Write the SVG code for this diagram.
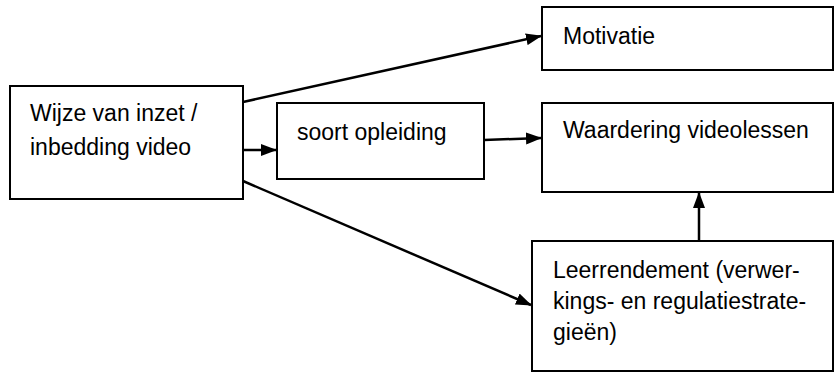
<svg xmlns="http://www.w3.org/2000/svg" width="835" height="372" viewBox="0 0 835 372">
<style>
.box{fill:#fff;stroke:#000;stroke-width:2}
.t{font-family:"Liberation Sans",Arial,sans-serif;font-size:23px;fill:#000}
.c{stroke:#000;stroke-width:2.5;fill:none}
</style>
<defs>
<marker id="ah" markerWidth="16" markerHeight="12" refX="15" refY="6" orient="auto" markerUnits="userSpaceOnUse">
<path d="M0,0 L16,6 L0,12 Z" fill="#000"/>
</marker>
</defs>
<g id="n-wijze"><rect class="box" x="10" y="86" width="233" height="113"/>
<text class="t" x="30" y="121">Wijze van inzet /</text>
<text class="t" x="30" y="155">inbedding video</text></g>
<g id="n-soort"><rect class="box" x="277" y="103" width="207" height="76"/>
<text class="t" x="297" y="140">soort opleiding</text></g>
<g id="n-motivatie"><rect class="box" x="542" y="7" width="291" height="63"/>
<text class="t" x="563" y="44">Motivatie</text></g>
<g id="n-waardering"><rect class="box" x="542" y="103" width="291" height="89"/>
<text class="t" x="563" y="138">Waardering videolessen</text></g>
<g id="n-leer"><rect class="box" x="532" y="241" width="301" height="130"/>
<text class="t" x="553" y="278">Leerrendement (verwer-</text>
<text class="t" x="553" y="309">kings- en regulatiestrate-</text>
<text class="t" x="553" y="340">gieën)</text></g>
<g id="connectors">
<line class="c" x1="243" y1="102" x2="541" y2="36" marker-end="url(#ah)"/>
<line class="c" x1="243" y1="150" x2="276" y2="150" marker-end="url(#ah)"/>
<line class="c" x1="484" y1="140" x2="541" y2="138" marker-end="url(#ah)"/>
<line class="c" x1="243" y1="181" x2="531" y2="305" marker-end="url(#ah)"/>
<line class="c" x1="699" y1="241" x2="699" y2="193" marker-end="url(#ah)"/>
</g>
</svg>
